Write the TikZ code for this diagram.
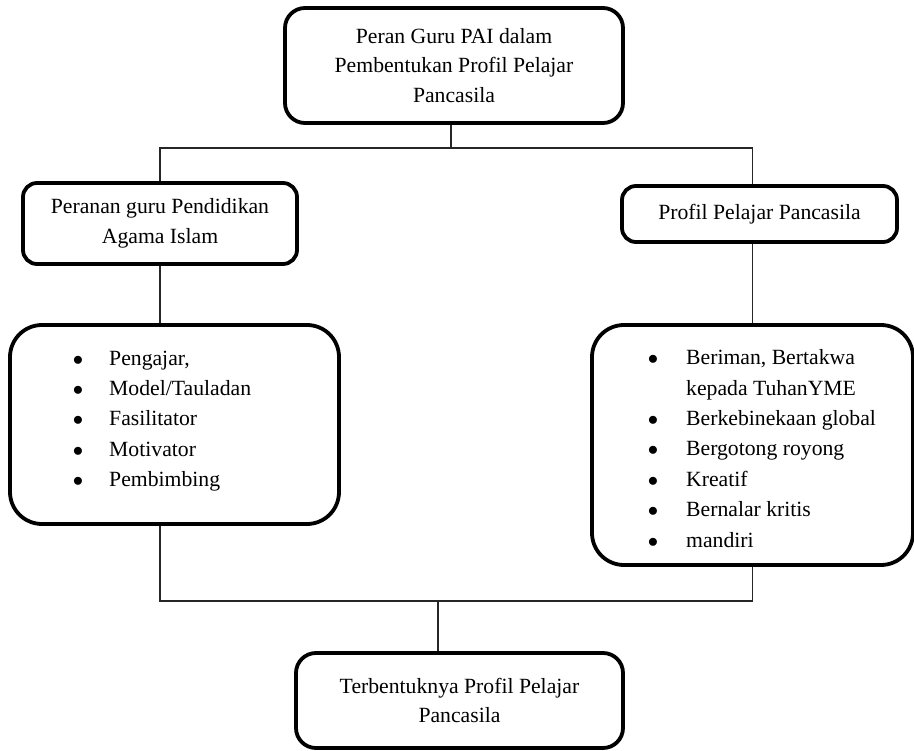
\documentclass[tikz,border=0pt]{standalone}
\usepackage{fontspec}
\setmainfont{Liberation Serif}
\usetikzlibrary{calc}
\newcommand{\lbul}{\makebox[36.4pt][l]{$\bullet$}}
\newcommand{\rbul}{\makebox[38.4pt][l]{$\bullet$}}
\begin{document}
\begin{tikzpicture}[x=1pt,y=-1pt,
  box/.style={draw=black, line width=3.8pt, rounded corners=#1, align=center, inner sep=0pt,
    font=\fontsize{21.7}{29.5}\selectfont, text=black},
  box/.default=15pt,
  conn/.style={line width=1.6pt, draw=black!85},
  listtext/.style={align=left, inner sep=0pt, anchor=west,
    font=\fontsize{21.7}{30.4}\selectfont, text=black}]
\useasboundingbox (0,0) rectangle (914,751);
\fill[white] (0,0) rectangle (914,751);

% boxes
\node[box=20pt, minimum width=338pt, minimum height=115pt] (top) at (454,65.5)
  {Peran Guru PAI dalam\\Pembentukan Profil Pelajar\\Pancasila};
\node[box=14pt, minimum width=274pt, minimum height=81pt] (lb) at (160,223.5)
  {Peranan guru Pendidikan\\Agama Islam};
\node[box=14pt, minimum width=275pt, minimum height=56pt] (rb) at (759.5,214)
  {Profil Pelajar Pancasila};
\node[box=32pt, minimum width=329pt, minimum height=199pt] (ll) at (174.5,424.5) {};
\node[box=32pt, minimum width=321pt, minimum height=240pt] (rl) at (752.5,445) {};
\node[box=20pt, minimum width=327pt, minimum height=95pt] (bb) at (459.5,700.5)
  {Terbentuknya Profil Pelajar\\Pancasila};

% list contents
\node[listtext] (lltext) at (72.6,421)
  {\lbul Pengajar,\\\lbul Model/Tauladan\\\lbul Fasilitator\\\lbul Motivator\\\lbul Pembimbing};
\node[listtext] (rltext) at (647.6,448.5)
  {\rbul Beriman, Bertakwa\\\hspace*{38.4pt}kepada TuhanYME\\\rbul Berkebinekaan global\\\rbul Bergotong royong\\\rbul Kreatif\\\rbul Bernalar kritis\\\rbul mandiri};

% connectors
\coordinate (ja) at (451,148);
\coordinate (jb) at (438,601);
\draw[conn] (top.south -| ja) -- (ja);
\draw[conn] (lb.north) |- (ja) -| (rb.north -| rl.north);
\draw[conn] (lb.south) -- (lb.south |- ll.north);
\draw[conn] (rb.south -| rl.north) -- (rl.north);
\draw[conn] (ll.south -| lb.south) |- (jb) -| (rl.south);
\draw[conn] (jb) -- (jb |- bb.north);
\end{tikzpicture}
\end{document}
